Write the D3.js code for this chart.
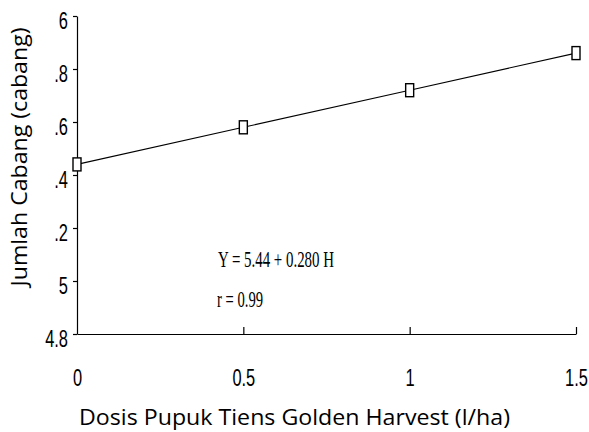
<!DOCTYPE html>
<html>
<head>
<meta charset="utf-8">
<script src="https://cdn.jsdelivr.net/npm/d3@7"></script>
<style>
html,body{margin:0;padding:0;background:#fff;}
svg{display:block;}
</style>
</head>
<body>
<svg id="chart" width="589" height="432"></svg>
<script>
// Data
const doses = [0, 0.5, 1, 1.5];
const branches = [5.44, 5.58, 5.72, 5.86];
const yTickValues = [4.8, 5.0, 5.2, 5.4, 5.6, 5.8, 6.0];
const yTickLabels = ["4.8", "5", ".2", ".4", ".6", ".8", "6"];
const xTickValues = [0, 0.5, 1, 1.5];
const xTickLabels = ["0", "0.5", "1", "1.5"];
const equationText = "Y = 5.44 + 0.280 H";
const rText = "r = 0.99";
const xTitle = "Dosis Pupuk Tiens Golden Harvest (l/ha)";
const yTitle = "Jumlah Cabang (cabang)";

const svg = d3.select("#chart");
const x = d3.scaleLinear().domain([0, 1.5]).range([77, 576]);
const y = d3.scaleLinear().domain([4.8, 6.0]).range([334, 16]);
const SX = 0.7; // condensed tick font

// Y axis
const yAxis = d3.axisLeft(y).tickValues(yTickValues).tickSize(4).tickSizeOuter(0)
  .tickFormat((d, i) => yTickLabels[i]);
const gy = svg.append("g").attr("transform", `translate(${x(0)},0)`).call(yAxis);
gy.select(".domain").attr("stroke", "#000").attr("stroke-width", 1.2);
gy.selectAll(".tick line").attr("stroke", "#000").attr("stroke-width", 1.2);
gy.selectAll(".tick text")
  .attr("font-family", "Liberation Sans, Arial, sans-serif")
  .attr("font-size", 23.5).attr("fill", "#000")
  .attr("x", -9 / SX).attr("y", 4).attr("dy", "0.36em")
  .attr("transform", `scale(${SX},1)`);

// X axis
const xAxis = d3.axisBottom(x).tickValues(xTickValues).tickSize(-7).tickSizeOuter(0)
  .tickFormat((d, i) => xTickLabels[i]);
const gx = svg.append("g").attr("transform", `translate(0,${y(4.8)})`).call(xAxis);
gx.select(".domain").attr("stroke", "#000").attr("stroke-width", 1.2);
gx.selectAll(".tick line").attr("stroke", "#000").attr("stroke-width", 1.2);
gx.selectAll(".tick line").filter(d => d === 0).remove();
gx.selectAll(".tick text")
  .attr("font-family", "Liberation Sans, Arial, sans-serif")
  .attr("font-size", 23.5).attr("fill", "#000")
  .attr("y", 52).attr("dy", 0)
  .attr("transform", `scale(${SX},1)`)
  .attr("x", 0);

// Line
const pts = doses.map((d, i) => [d, branches[i]]);
svg.append("path")
  .datum(pts)
  .attr("fill", "none").attr("stroke", "#000").attr("stroke-width", 1.1)
  .attr("d", d3.line().x(d => x(d[0])).y(d => y(d[1])));

// Markers
svg.selectAll("rect.mk").data(pts).enter().append("rect")
  .attr("class", "mk")
  .attr("x", d => x(d[0]) - 4).attr("y", d => y(d[1]) - 6.5)
  .attr("width", 8).attr("height", 13)
  .attr("fill", "#fff").attr("stroke", "#000").attr("stroke-width", 1.4);

// Equation
svg.append("text").text(equationText)
  .attr("x", 218).attr("y", 267)
  .attr("font-family", "Liberation Serif, Times New Roman, serif")
  .attr("font-size", 24).attr("textLength", 116).attr("lengthAdjust", "spacingAndGlyphs");
svg.append("text").text(rText)
  .attr("x", 217).attr("y", 307)
  .attr("font-family", "Liberation Serif, Times New Roman, serif")
  .attr("font-size", 24).attr("textLength", 46).attr("lengthAdjust", "spacingAndGlyphs");

// Titles
svg.append("text").text(xTitle)
  .attr("x", 294.5).attr("y", 425).attr("text-anchor", "middle")
  .attr("font-family", "Open Sans, sans-serif").attr("font-size", 21)
  .attr("textLength", 431).attr("lengthAdjust", "spacingAndGlyphs");
svg.append("text").text(yTitle)
  .attr("transform", "translate(27,157) rotate(-90)")
  .attr("text-anchor", "middle")
  .attr("font-family", "Open Sans, sans-serif").attr("font-size", 21)
  .attr("textLength", 259).attr("lengthAdjust", "spacingAndGlyphs");
</script>
</body>
</html>
